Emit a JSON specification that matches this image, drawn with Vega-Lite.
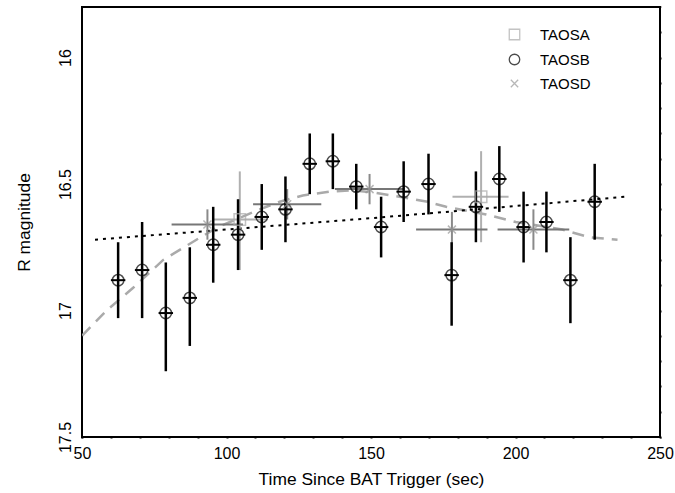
{
  "$schema": "https://vega.github.io/schema/vega-lite/v6.json",
  "width": 578,
  "height": 430,
  "autosize": "none",
  "padding": {"left": 82, "top": 7, "right": 15, "bottom": 56},
  "background": "white",
  "config": {
    "view": {"stroke": "black", "strokeWidth": 2},
    "font": "Liberation Sans",
    "axis": {"domain": false, "grid": false, "labelColor": "black", "titleColor": "black", "labelFont": "Liberation Sans", "titleFont": "Liberation Sans", "titleFontWeight": "normal", "labelFontSize": 16, "titleFontSize": 17.4, "labelFlush": false, "labelOverlap": false}
  },
  "data": {"values": [
    {"s": "TAOSB", "t": 62.5, "m": 16.88, "mlo": 16.73, "mhi": 17.03, "tlo": 60.0, "thi": 65.0},
    {"s": "TAOSB", "t": 70.8, "m": 16.84, "mlo": 16.65, "mhi": 17.03, "tlo": 68.3, "thi": 73.3},
    {"s": "TAOSB", "t": 79.0, "m": 17.01, "mlo": 16.81, "mhi": 17.24, "tlo": 76.5, "thi": 81.5},
    {"s": "TAOSB", "t": 87.3, "m": 16.95, "mlo": 16.75, "mhi": 17.14, "tlo": 84.8, "thi": 89.8},
    {"s": "TAOSB", "t": 95.4, "m": 16.74, "mlo": 16.59, "mhi": 16.89, "tlo": 92.9, "thi": 97.9},
    {"s": "TAOSB", "t": 104.0, "m": 16.70, "mlo": 16.56, "mhi": 16.84, "tlo": 101.5, "thi": 106.5},
    {"s": "TAOSB", "t": 112.2, "m": 16.63, "mlo": 16.50, "mhi": 16.76, "tlo": 109.7, "thi": 114.7},
    {"s": "TAOSB", "t": 120.4, "m": 16.60, "mlo": 16.47, "mhi": 16.73, "tlo": 117.9, "thi": 122.9},
    {"s": "TAOSB", "t": 128.8, "m": 16.42, "mlo": 16.30, "mhi": 16.54, "tlo": 126.3, "thi": 131.3},
    {"s": "TAOSB", "t": 136.8, "m": 16.41, "mlo": 16.30, "mhi": 16.52, "tlo": 134.3, "thi": 139.3},
    {"s": "TAOSB", "t": 144.9, "m": 16.51, "mlo": 16.42, "mhi": 16.60, "tlo": 142.4, "thi": 147.4},
    {"s": "TAOSB", "t": 153.5, "m": 16.67, "mlo": 16.55, "mhi": 16.79, "tlo": 151.0, "thi": 156.0},
    {"s": "TAOSB", "t": 161.3, "m": 16.53, "mlo": 16.41, "mhi": 16.65, "tlo": 158.8, "thi": 163.8},
    {"s": "TAOSB", "t": 169.9, "m": 16.50, "mlo": 16.38, "mhi": 16.62, "tlo": 167.4, "thi": 172.4},
    {"s": "TAOSB", "t": 177.9, "m": 16.86, "mlo": 16.73, "mhi": 17.06, "tlo": 175.4, "thi": 180.4},
    {"s": "TAOSB", "t": 186.3, "m": 16.59, "mlo": 16.45, "mhi": 16.73, "tlo": 183.8, "thi": 188.8},
    {"s": "TAOSB", "t": 194.4, "m": 16.48, "mlo": 16.35, "mhi": 16.61, "tlo": 191.9, "thi": 196.9},
    {"s": "TAOSB", "t": 202.8, "m": 16.67, "mlo": 16.53, "mhi": 16.81, "tlo": 200.3, "thi": 205.3},
    {"s": "TAOSB", "t": 210.7, "m": 16.65, "mlo": 16.53, "mhi": 16.77, "tlo": 208.2, "thi": 213.2},
    {"s": "TAOSB", "t": 219.0, "m": 16.88, "mlo": 16.71, "mhi": 17.05, "tlo": 216.5, "thi": 221.5},
    {"s": "TAOSB", "t": 227.4, "m": 16.57, "mlo": 16.42, "mhi": 16.72, "tlo": 224.9, "thi": 229.9},
    {"s": "TAOSD", "t": 93.4, "m": 16.66, "mlo": 16.60, "mhi": 16.72, "tlo": 81.0, "thi": 105.7},
    {"s": "TAOSD", "t": 121.0, "m": 16.58, "mlo": 16.52, "mhi": 16.64, "tlo": 109.2, "thi": 132.8},
    {"s": "TAOSD", "t": 149.5, "m": 16.52, "mlo": 16.46, "mhi": 16.58, "tlo": 137.5, "thi": 161.5},
    {"s": "TAOSD", "t": 178.0, "m": 16.68, "mlo": 16.61, "mhi": 16.76, "tlo": 165.6, "thi": 190.3},
    {"s": "TAOSD", "t": 206.2, "m": 16.68, "mlo": 16.60, "mhi": 16.76, "tlo": 193.8, "thi": 218.6},
    {"s": "TAOSA", "t": 104.6, "m": 16.64, "mlo": 16.45, "mhi": 16.84, "tlo": 95.0, "thi": 114.3},
    {"s": "TAOSA", "t": 188.1, "m": 16.55, "mlo": 16.37, "mhi": 16.73, "tlo": 178.2, "thi": 197.6},
    {"s": "fit", "t": 54.5, "m": 16.72},
    {"s": "fit", "t": 150.0, "m": 16.635},
    {"s": "fit", "t": 238.1, "m": 16.55},
    {"s": "model", "t": 50.0, "m": 17.10},
    {"s": "model", "t": 58.5, "m": 17.00},
    {"s": "model", "t": 67.7, "m": 16.91},
    {"s": "model", "t": 78.1, "m": 16.80},
    {"s": "model", "t": 89.6, "m": 16.72},
    {"s": "model", "t": 97.1, "m": 16.67},
    {"s": "model", "t": 111.5, "m": 16.60},
    {"s": "model", "t": 118.4, "m": 16.57},
    {"s": "model", "t": 126.4, "m": 16.545},
    {"s": "model", "t": 135.7, "m": 16.53},
    {"s": "model", "t": 143.7, "m": 16.525},
    {"s": "model", "t": 151.8, "m": 16.535},
    {"s": "model", "t": 159.8, "m": 16.55},
    {"s": "model", "t": 169.6, "m": 16.57},
    {"s": "model", "t": 176.0, "m": 16.59},
    {"s": "model", "t": 189.8, "m": 16.62},
    {"s": "model", "t": 200.1, "m": 16.65},
    {"s": "model", "t": 216.2, "m": 16.68},
    {"s": "model", "t": 225.5, "m": 16.71},
    {"s": "model", "t": 235.3, "m": 16.72}
  ]},
  "resolve": {"axis": {"x": "independent", "y": "independent"}},
  "layer": [
    {
      "transform": [{"filter": "datum.s === 'model'"}],
      "mark": {"type": "line", "color": "#aaaaaa", "strokeWidth": 2.5, "strokeDash": [12, 8], "clip": true},
      "encoding": {
        "x": {"field": "t", "type": "quantitative", "scale": {"domain": [50, 250], "nice": false, "zero": false},
              "axis": {"orient": "bottom", "zindex": 1, "values": [50, 60, 70, 80, 90, 100, 110, 120, 130, 140, 150, 160, 170, 180, 190, 200, 210, 220, 230, 240, 250], "format": "d",
                       "labelExpr": "datum.value % 50 === 0 ? datum.label : ''",
                       "tickSize": 1, "tickColor": "#000000", "tickWidth": 2, "labelPadding": 7, "title": "Time Since BAT Trigger (sec)", "titlePadding": 9,
                       "encode": {"ticks": {"update": {"y2": {"signal": "datum.value % 50 === 0 ? -10 : -7"}}}}}},
        "y": {"field": "m", "type": "quantitative", "scale": {"domain": [15.8, 17.5], "reverse": true, "nice": false, "zero": false},
              "axis": {"orient": "left", "zindex": 1, "values": [15.9, 16, 16.1, 16.2, 16.3, 16.4, 16.5, 16.6, 16.7, 16.8, 16.9, 17, 17.1, 17.2, 17.3, 17.4, 17.5], "format": "~g",
                       "labelExpr": "abs(datum.value * 2 - round(datum.value * 2)) < 0.000001 ? datum.label : ''",
                       "labelAngle": -90, "tickSize": 1, "tickColor": "#000000", "tickWidth": 2, "labelPadding": 8, "title": "R magnitude", "titlePadding": 24,
                       "encode": {"ticks": {"update": {"x2": {"signal": "abs(datum.value * 2 - round(datum.value * 2)) < 0.000001 ? 10 : 7"}}}}}}
      }
    },
    {
      "transform": [{"filter": "datum.s === 'fit'"}],
      "mark": {"type": "line", "color": "black", "strokeWidth": 2, "strokeDash": [3, 5]},
      "encoding": {
        "x": {"field": "t", "type": "quantitative", "scale": {"domain": [50, 250], "nice": false, "zero": false},
              "axis": {"orient": "top", "zindex": 1, "values": [50, 60, 70, 80, 90, 100, 110, 120, 130, 140, 150, 160, 170, 180, 190, 200, 210, 220, 230, 240, 250],
                       "tickSize": 1, "tickColor": "#000000", "tickWidth": 2, "labels": false, "title": null,
                       "encode": {"ticks": {"update": {"y2": {"signal": "datum.value % 50 === 0 ? 10 : 7"}}}}}},
        "y": {"field": "m", "type": "quantitative", "scale": {"domain": [15.8, 17.5], "reverse": true, "nice": false, "zero": false},
              "axis": {"orient": "right", "zindex": 1, "values": [15.9, 16, 16.1, 16.2, 16.3, 16.4, 16.5, 16.6, 16.7, 16.8, 16.9, 17, 17.1, 17.2, 17.3, 17.4, 17.5],
                       "tickSize": 1, "tickColor": "#000000", "tickWidth": 2, "labels": false, "title": null,
                       "encode": {"ticks": {"update": {"x2": {"signal": "abs(datum.value * 2 - round(datum.value * 2)) < 0.000001 ? -10 : -7"}}}}}}
      }
    },
    {
      "transform": [{"filter": "datum.s === 'TAOSA'"}],
      "mark": {"type": "rule", "color": "#b0b0b0", "strokeWidth": 2},
      "encoding": {
        "x": {"field": "t", "type": "quantitative", "scale": {"domain": [50, 250], "nice": false, "zero": false}, "axis": null},
        "y": {"field": "mlo", "type": "quantitative", "scale": {"domain": [15.8, 17.5], "reverse": true, "nice": false, "zero": false}, "axis": null},
        "y2": {"field": "mhi"}
      }
    },
    {
      "transform": [{"filter": "datum.s === 'TAOSA'"}],
      "mark": {"type": "rule", "color": "#b0b0b0", "strokeWidth": 2},
      "encoding": {
        "x": {"field": "tlo", "type": "quantitative", "scale": {"domain": [50, 250], "nice": false, "zero": false}, "axis": null},
        "x2": {"field": "thi"},
        "y": {"field": "m", "type": "quantitative", "scale": {"domain": [15.8, 17.5], "reverse": true, "nice": false, "zero": false}, "axis": null}
      }
    },
    {
      "transform": [{"filter": "datum.s === 'TAOSD'"}],
      "mark": {"type": "rule", "color": "#8a8a8a", "strokeWidth": 2},
      "encoding": {
        "x": {"field": "t", "type": "quantitative", "scale": {"domain": [50, 250], "nice": false, "zero": false}, "axis": null},
        "y": {"field": "mlo", "type": "quantitative", "scale": {"domain": [15.8, 17.5], "reverse": true, "nice": false, "zero": false}, "axis": null},
        "y2": {"field": "mhi"}
      }
    },
    {
      "transform": [{"filter": "datum.s === 'TAOSD'"}],
      "mark": {"type": "rule", "color": "#777777", "strokeWidth": 2},
      "encoding": {
        "x": {"field": "tlo", "type": "quantitative", "scale": {"domain": [50, 250], "nice": false, "zero": false}, "axis": null},
        "x2": {"field": "thi"},
        "y": {"field": "m", "type": "quantitative", "scale": {"domain": [15.8, 17.5], "reverse": true, "nice": false, "zero": false}, "axis": null}
      }
    },
    {
      "transform": [{"filter": "datum.s === 'TAOSB'"}],
      "mark": {"type": "rule", "color": "black", "strokeWidth": 2.5},
      "encoding": {
        "x": {"field": "t", "type": "quantitative", "scale": {"domain": [50, 250], "nice": false, "zero": false}, "axis": null},
        "y": {"field": "mlo", "type": "quantitative", "scale": {"domain": [15.8, 17.5], "reverse": true, "nice": false, "zero": false}, "axis": null},
        "y2": {"field": "mhi"}
      }
    },
    {
      "transform": [{"filter": "datum.s === 'TAOSB'"}],
      "mark": {"type": "rule", "color": "black", "strokeWidth": 2},
      "encoding": {
        "x": {"field": "tlo", "type": "quantitative", "scale": {"domain": [50, 250], "nice": false, "zero": false}, "axis": null},
        "x2": {"field": "thi"},
        "y": {"field": "m", "type": "quantitative", "scale": {"domain": [15.8, 17.5], "reverse": true, "nice": false, "zero": false}, "axis": null}
      }
    },
    {
      "transform": [{"filter": "datum.s === 'TAOSA' || datum.s === 'TAOSB' || datum.s === 'TAOSD'"}],
      "mark": {"type": "point", "filled": false, "strokeWidth": 1.5, "size": 130},
      "encoding": {
        "x": {"field": "t", "type": "quantitative", "scale": {"domain": [50, 250], "nice": false, "zero": false}, "axis": null},
        "y": {"field": "m", "type": "quantitative", "scale": {"domain": [15.8, 17.5], "reverse": true, "nice": false, "zero": false}, "axis": null},
        "color": {"field": "s", "type": "nominal", "scale": {"domain": ["TAOSA", "TAOSB", "TAOSD"], "range": ["#aaaaaa", "#000000", "#999999"]},
                  "legend": {"title": null, "orient": "none", "legendX": 425, "legendY": 20, "labelFontSize": 15, "symbolSize": 110, "symbolStrokeWidth": 1.3, "rowPadding": 8, "labelOffset": 18,
                             "labelFont": "Liberation Sans",
                             "encode": {"labels": {"update": {"fill": {"signal": "datum.label === 'TAOSB' ? '#000000' : '#a0a0a0'"}}}}}},
        "shape": {"field": "s", "type": "nominal", "scale": {"domain": ["TAOSA", "TAOSB", "TAOSD"], "range": ["square", "circle", "M-0.7,-0.7L0.7,0.7M-0.7,0.7L0.7,-0.7"]}}
      }
    }
  ]
}
